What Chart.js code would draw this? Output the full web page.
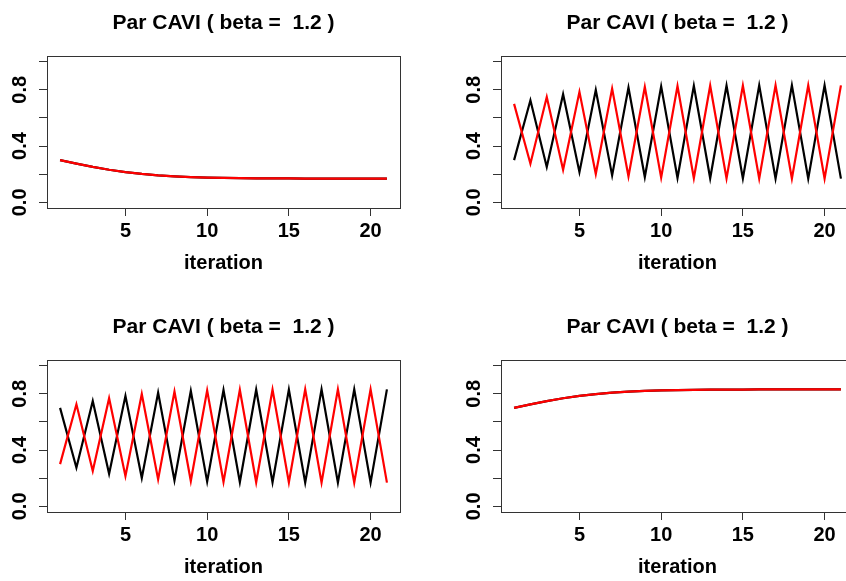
<!DOCTYPE html>
<html lang="en">
<head>
  <meta charset="UTF-8" />
  <title>Par CAVI</title>
  <script src="https://cdn.jsdelivr.net/npm/chart.js"></script>
  <style>
    body {
      margin: 0;
      width: 846px;
      height: 581px;
      overflow: hidden;
      background: #ffffff;
      position: relative;
    }
    canvas {
      position: absolute;
    }
  </style>
</head>
<body>
  <canvas id="p1" width="423" height="290" style="left:0px;top:0px"></canvas>
  <canvas id="p2" width="440" height="290" style="left:423px;top:0px"></canvas>
  <canvas id="p3" width="423" height="277" style="left:0px;top:304px"></canvas>
  <canvas id="p4" width="440" height="277" style="left:423px;top:304px"></canvas>

  <script>
    const titleText = 'Par CAVI ( beta =  1.2 )';
    const xTitle = 'iteration';
    const iterations = [1, 2, 3, 4, 5, 6, 7, 8, 9, 10, 11, 12, 13, 14, 15, 16, 17, 18, 19, 20, 21];
    const xTickValues = [5, 10, 15, 20];
    const yTickValues = [0, 0.2, 0.4, 0.6, 0.8, 1.0];
    const yTickLabels = ['0.0', '', '0.4', '', '0.8', ''];

    // top left: both series on the same path (red drawn over black)
    const p1Black = [0.300, 0.275, 0.252, 0.232, 0.215, 0.202, 0.192, 0.185, 0.180, 0.176, 0.174, 0.172, 0.171, 0.170, 0.170, 0.169, 0.169, 0.169, 0.169, 0.169, 0.169];
    const p1Red   = [0.300, 0.275, 0.252, 0.232, 0.215, 0.202, 0.192, 0.185, 0.180, 0.176, 0.174, 0.172, 0.171, 0.170, 0.170, 0.169, 0.169, 0.169, 0.169, 0.169, 0.169];
    // top right: oscillating
    const p2Black = [0.300, 0.725, 0.252, 0.768, 0.215, 0.798, 0.192, 0.815, 0.180, 0.824, 0.174, 0.828, 0.171, 0.830, 0.170, 0.831, 0.169, 0.831, 0.169, 0.831, 0.169];
    const p2Red   = [0.700, 0.275, 0.748, 0.232, 0.785, 0.202, 0.808, 0.185, 0.820, 0.176, 0.826, 0.172, 0.829, 0.170, 0.830, 0.169, 0.831, 0.169, 0.831, 0.169, 0.831];
    // bottom left: oscillating, colours swapped
    const p3Black = [0.700, 0.275, 0.748, 0.232, 0.785, 0.202, 0.808, 0.185, 0.820, 0.176, 0.826, 0.172, 0.829, 0.170, 0.830, 0.169, 0.831, 0.169, 0.831, 0.169, 0.831];
    const p3Red   = [0.300, 0.725, 0.252, 0.768, 0.215, 0.798, 0.192, 0.815, 0.180, 0.824, 0.174, 0.828, 0.171, 0.830, 0.170, 0.831, 0.169, 0.831, 0.169, 0.831, 0.169];
    // bottom right
    const p4Black = [0.700, 0.725, 0.748, 0.768, 0.785, 0.798, 0.808, 0.815, 0.820, 0.824, 0.826, 0.828, 0.829, 0.830, 0.830, 0.831, 0.831, 0.831, 0.831, 0.831, 0.831];
    const p4Red   = [0.700, 0.725, 0.748, 0.768, 0.785, 0.798, 0.808, 0.815, 0.820, 0.824, 0.826, 0.828, 0.829, 0.830, 0.830, 0.831, 0.831, 0.831, 0.831, 0.831, 0.831];

    const FONT = { family: "'Liberation Sans', Arial, sans-serif", size: 20, weight: 'bold', lineHeight: 1.2 };
    const TITLE_FONT = { family: "'Liberation Sans', Arial, sans-serif", size: 21, weight: 'bold', lineHeight: 1.2 };
    const AXIS_COLOR = '#333333';

    const boxPlugin = {
      id: 'rbox',
      afterDraw(chart) {
        const { ctx, chartArea: a } = chart;
        ctx.save();
        ctx.strokeStyle = AXIS_COLOR;
        ctx.lineWidth = 1;
        ctx.strokeRect(Math.round(a.left) + 0.5, Math.round(a.top) + 0.5,
          Math.round(a.right - a.left), Math.round(a.bottom - a.top));
        ctx.restore();
      }
    };

    function toPoints(values) {
      return iterations.map((x, i) => ({ x: x, y: values[i] }));
    }

    // box = plot region inside the canvas (left, right, top, bottom)
    function makePanel(id, black, red, box) {
      const canvas = document.getElementById(id);
      const W = canvas.width, H = canvas.height;
      const xAxisHeight = 67;
      new Chart(canvas.getContext('2d'), {
        type: 'line',
        data: {
          datasets: [
            { label: 'red', data: toPoints(red), borderColor: '#ff0000', borderWidth: 2.2 },
            { label: 'black', data: toPoints(black), borderColor: '#000000', borderWidth: 2.2 }
          ]
        },
        options: {
          responsive: false,
          devicePixelRatio: 1,
          animation: false,
          events: [],
          elements: { point: { radius: 0 }, line: { tension: 0, fill: false } },
          layout: { padding: { left: 0, top: 0, right: W - box.right, bottom: H - box.bottom - xAxisHeight } },
          plugins: {
            legend: { display: false },
            tooltip: { enabled: false },
            title: {
              display: true,
              text: titleText,
              fullSize: false,
              color: '#000000',
              font: TITLE_FONT,
              padding: { top: 10.5, bottom: box.top - 25.2 - 10.5 }
            }
          },
          scales: {
            x: {
              type: 'linear',
              min: 0.2,
              max: 21.8,
              afterBuildTicks: s => { s.ticks = xTickValues.map(v => ({ value: v })); },
              afterFit: s => { s.height = xAxisHeight; },
              grid: { drawOnChartArea: false, drawTicks: true, tickLength: 8, color: AXIS_COLOR },
              border: { display: false },
              ticks: { autoSkip: false, maxRotation: 0, minRotation: 0, padding: 3, color: '#000000', font: FONT },
              title: { display: true, text: xTitle, color: '#000000', font: FONT, padding: { top: 0, bottom: 0 } }
            },
            y: {
              type: 'linear',
              min: -0.04,
              max: 1.04,
              afterBuildTicks: s => { s.ticks = yTickValues.map(v => ({ value: v })); },
              afterFit: s => { s.width = box.left; },
              grid: { drawOnChartArea: false, drawTicks: true, tickLength: 8, color: AXIS_COLOR },
              border: { display: false },
              ticks: {
                autoSkip: false,
                minRotation: 90,
                maxRotation: 90,
                crossAlign: 'center',
                padding: 5,
                color: '#000000',
                font: FONT,
                callback: (value, index) => yTickLabels[index]
              }
            }
          }
        },
        plugins: [boxPlugin]
      });
    }

    makePanel('p1', p1Black, p1Red, { left: 47, right: 400, top: 56, bottom: 208 });
    makePanel('p2', p2Black, p2Red, { left: 78, right: 431, top: 56, bottom: 208 });
    makePanel('p3', p3Black, p3Red, { left: 47, right: 400, top: 56, bottom: 208 });
    makePanel('p4', p4Black, p4Red, { left: 78, right: 431, top: 56, bottom: 208 });
  </script>
</body>
</html>
